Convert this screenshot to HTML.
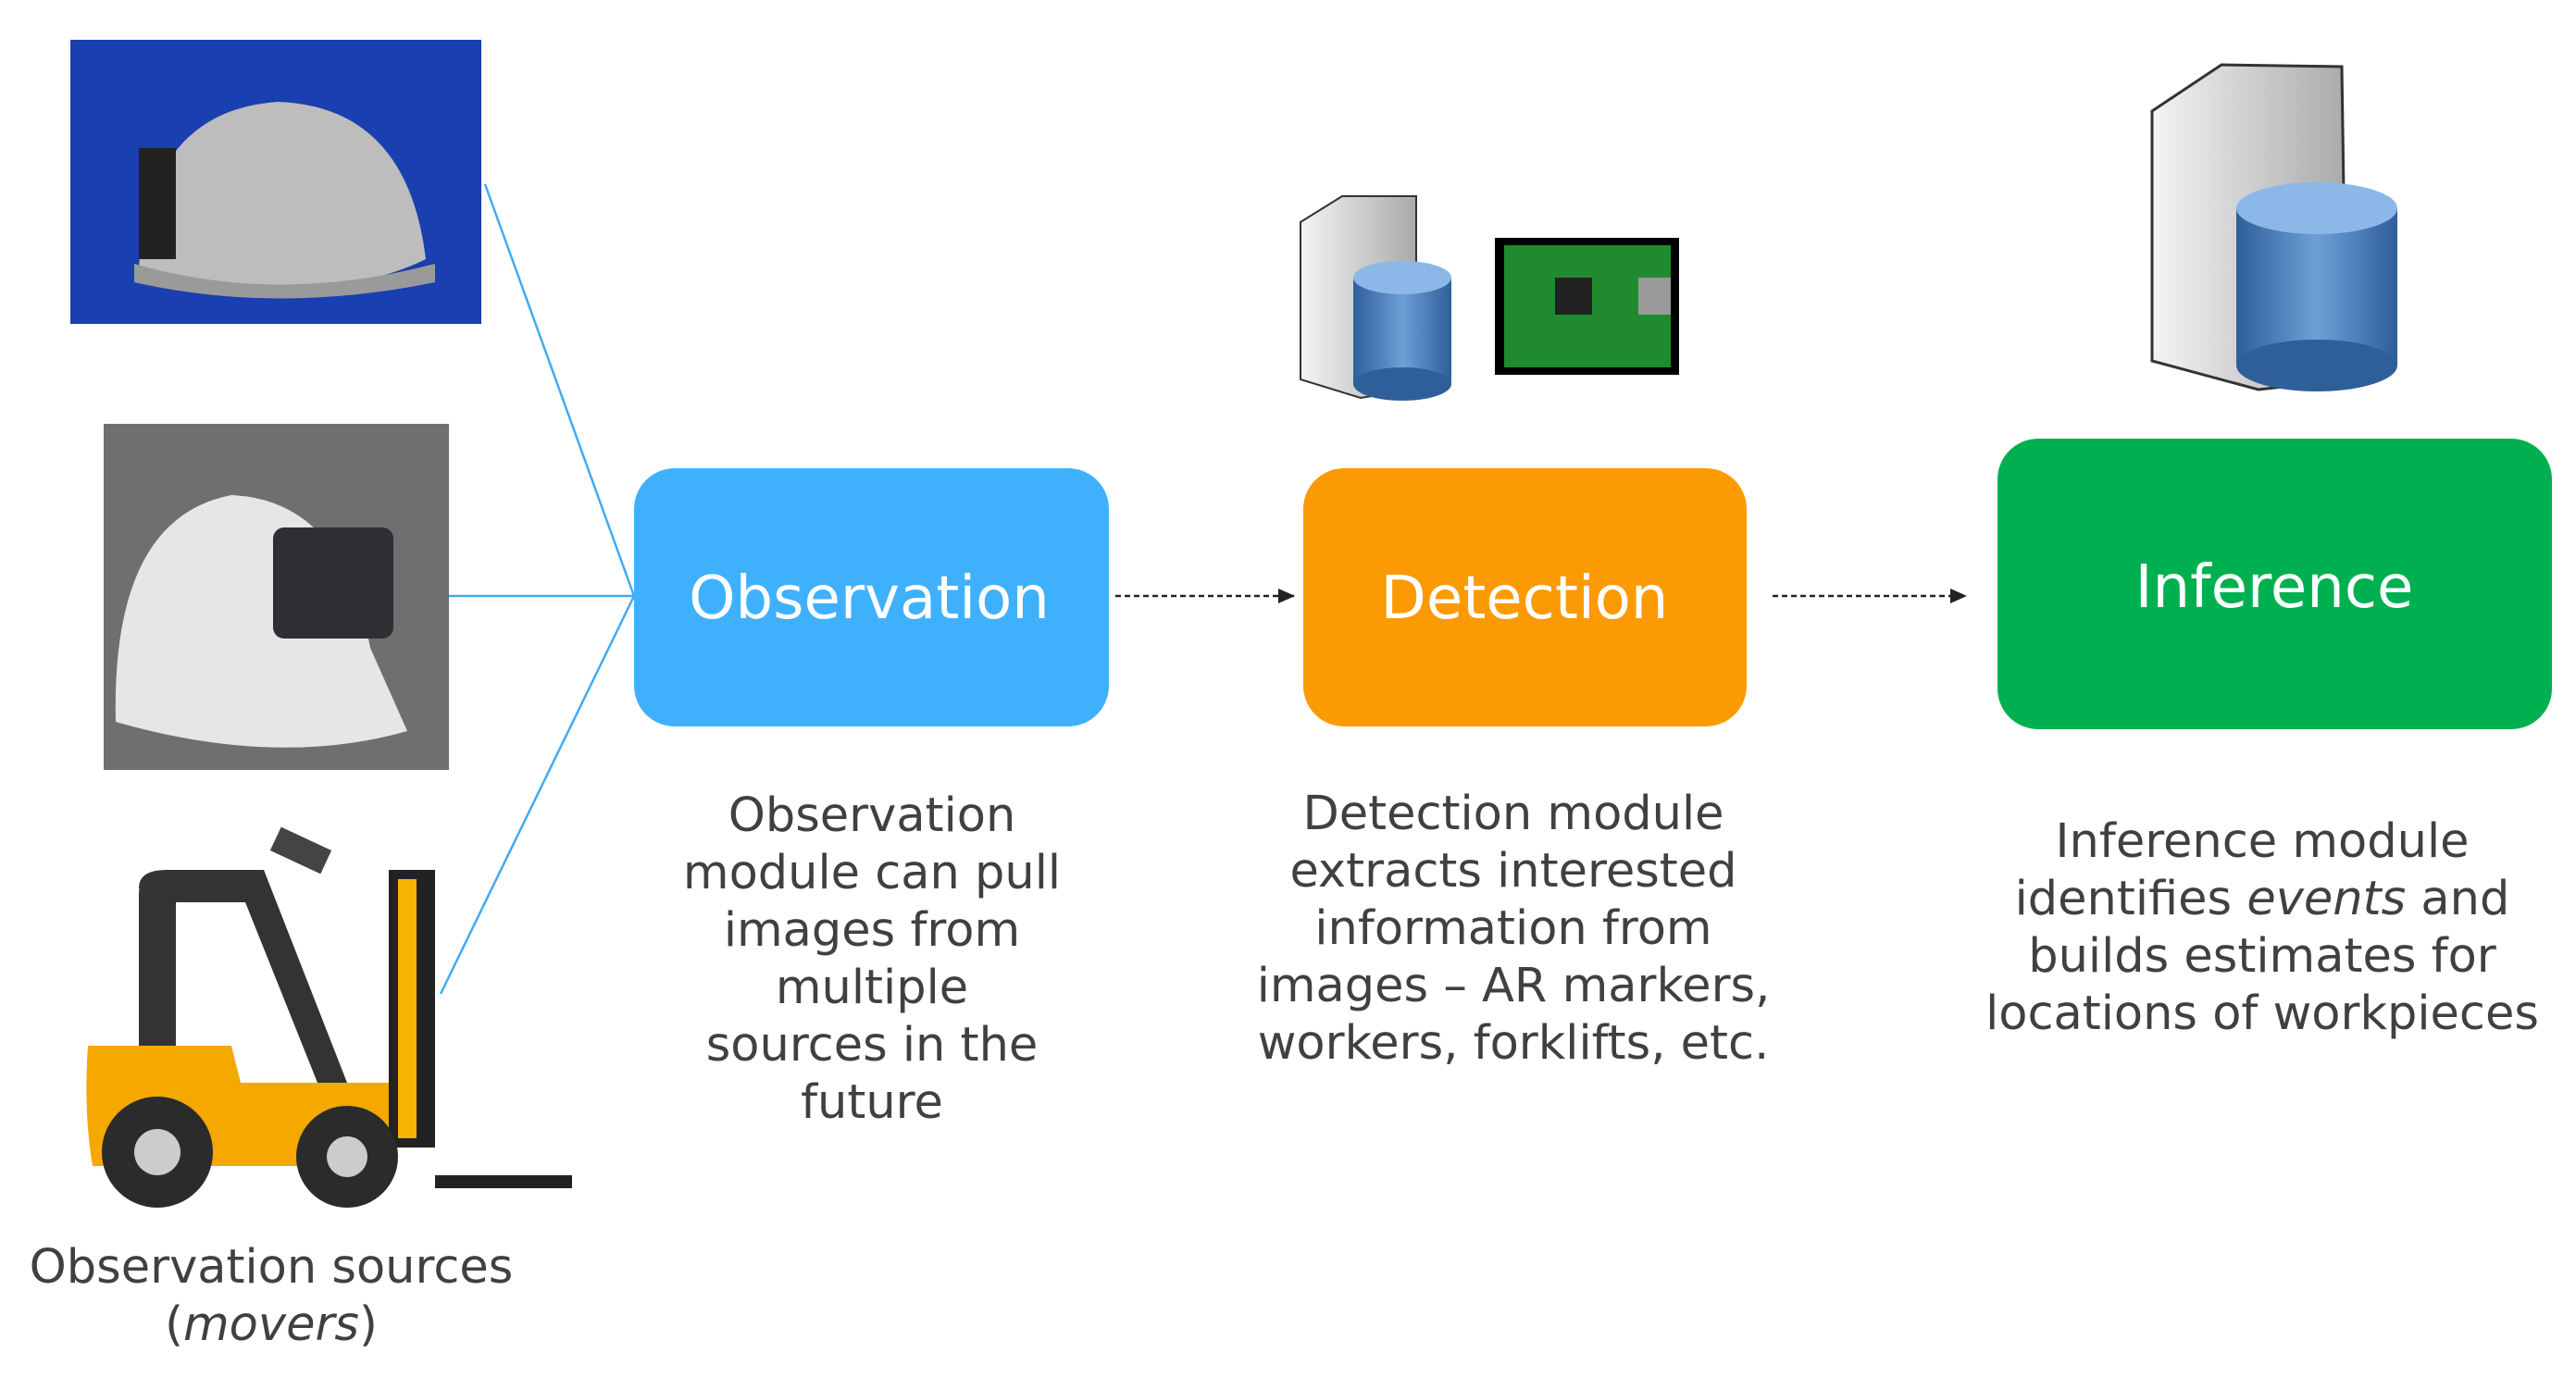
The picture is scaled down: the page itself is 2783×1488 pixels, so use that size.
<!DOCTYPE html>
<html><head><meta charset="utf-8"><style>
html,body{margin:0;padding:0;background:#fff;}
svg{display:block}
text{font-family:"DejaVu Sans","Liberation Sans",sans-serif;}
</style></head><body>
<svg width="2783" height="1488" viewBox="0 0 2783 1488" xmlns="http://www.w3.org/2000/svg">
<defs>
<marker id="ah" markerWidth="18" markerHeight="16" refX="17" refY="8" orient="auto" markerUnits="userSpaceOnUse"><path d="M0,0 L18,8 L0,16 z" fill="#222"/></marker>
<linearGradient id="cyl" x1="0" x2="1"><stop offset="0" stop-color="#2f5f9a"/><stop offset="0.5" stop-color="#6e9fd6"/><stop offset="1" stop-color="#2f5f9a"/></linearGradient>
<linearGradient id="srv" x1="0" x2="1"><stop offset="0" stop-color="#f4f4f4"/><stop offset="1" stop-color="#aaa"/></linearGradient>
</defs>
<!-- helmet 1 -->
<rect x="76" y="43" width="444" height="307" fill="#1a3fb0"/>
<path d="M150,290 Q160,120 300,110 Q440,115 460,280 Q400,310 300,315 Q200,315 150,290z" fill="#bdbdbd"/>
<path d="M145,285 Q300,330 470,285 L470,305 Q300,340 145,305z" fill="#9a9a9a"/>
<rect x="150" y="160" width="40" height="120" fill="#222"/>
<!-- helmet 2 -->
<rect x="112" y="458" width="373" height="374" fill="#6f6f6f"/>
<path d="M125,780 Q120,560 250,535 Q370,540 400,700 L440,790 Q300,830 125,780z" fill="#e6e6e6"/>
<rect x="295" y="570" width="130" height="120" rx="12" fill="#2d2f33"/>
<!-- forklift -->
<rect x="150" y="945" width="40" height="230" rx="20" fill="#333"/>
<path d="M150,960 Q150,940 180,940 L285,940 L375,1170 L345,1175 L265,975 L190,975 z" fill="#333"/>
<rect x="420" y="940" width="50" height="300" fill="#222"/>
<rect x="430" y="950" width="20" height="280" fill="#f5b400"/>
<rect x="470" y="1270" width="148" height="14" fill="#222"/>
<path d="M95,1130 L250,1130 L260,1170 L420,1170 L420,1260 L100,1260 Q90,1200 95,1130z" fill="#f5a800"/>
<circle cx="170" cy="1245" r="60" fill="#2b2b2b"/><circle cx="170" cy="1245" r="25" fill="#ccc"/>
<circle cx="375" cy="1250" r="55" fill="#2b2b2b"/><circle cx="375" cy="1250" r="22" fill="#ccc"/>
<rect x="295" y="905" width="60" height="28" fill="#444" transform="rotate(25 325 919)"/>
<!-- connectors -->
<g stroke="#42aaf5" stroke-width="2.5" fill="none">
<line x1="524" y1="199" x2="685" y2="644"/>
<line x1="485" y1="644" x2="685" y2="644"/>
<line x1="476" y1="1074" x2="685" y2="644"/>
</g>
<!-- boxes -->
<rect x="685" y="506" width="513" height="279" rx="44" fill="#3fb1fc"/>
<rect x="1408" y="506" width="479" height="279" rx="44" fill="#fc9a03"/>
<rect x="2158" y="474" width="599" height="314" rx="44" fill="#00b050"/>
<g fill="#fff" font-size="64" text-anchor="middle">
<text x="939" y="668">Observation</text>
<text x="1647" y="668">Detection</text>
<text x="2457" y="656">Inference</text>
</g>
<g stroke="#222" stroke-width="2.5" stroke-dasharray="6,4" marker-end="url(#ah)">
<line x1="1205" y1="644" x2="1398" y2="644"/>
<line x1="1915" y1="644" x2="2124" y2="644"/>
</g>
<!-- small server -->
<path d="M1405,240 L1450,212 L1530,212 L1530,420 L1470,430 L1405,410z" fill="url(#srv)" stroke="#333" stroke-width="2"/>
<g><rect x="1462" y="300" width="106" height="115" fill="url(#cyl)"/><ellipse cx="1515" cy="300" rx="53" ry="18" fill="#8bb8e8"/><ellipse cx="1515" cy="415" rx="53" ry="18" fill="#2f5f9a"/></g>
<!-- raspberry pi -->
<rect x="1615" y="257" width="199" height="148" fill="#000"/>
<rect x="1625" y="265" width="180" height="132" fill="#1f8a2e"/>
<rect x="1680" y="300" width="40" height="40" fill="#222"/>
<rect x="1770" y="300" width="35" height="40" fill="#999"/>
<!-- big server -->
<path d="M2325,120 L2400,70 L2530,72 L2535,410 L2440,421 L2325,390z" fill="url(#srv)" stroke="#333" stroke-width="3"/>
<g><rect x="2416" y="225" width="174" height="170" fill="url(#cyl)"/><ellipse cx="2503" cy="225" rx="87" ry="28" fill="#8bb8e8"/><ellipse cx="2503" cy="395" rx="87" ry="28" fill="#2f5f9a"/></g>
<!-- descriptions -->
<g fill="#404040" font-size="51" text-anchor="middle">
<text x="942" y="898">Observation</text>
<text x="942" y="960">module can pull</text>
<text x="942" y="1022">images from</text>
<text x="942" y="1084">multiple</text>
<text x="942" y="1146">sources in the</text>
<text x="942" y="1208">future</text>
<text x="1635" y="896">Detection module</text>
<text x="1635" y="958">extracts interested</text>
<text x="1635" y="1020">information from</text>
<text x="1635" y="1082">images – AR markers,</text>
<text x="1635" y="1144">workers, forklifts, etc.</text>
<text x="2444" y="926">Inference module</text>
<text x="2444" y="988">identifies <tspan font-style="italic">events</tspan> and</text>
<text x="2444" y="1050">builds estimates for</text>
<text x="2444" y="1112">locations of workpieces</text>
<text x="293" y="1386">Observation sources</text>
<text x="293" y="1448">(<tspan font-style="italic">movers</tspan>)</text>
</g>
</svg>
</body></html>
